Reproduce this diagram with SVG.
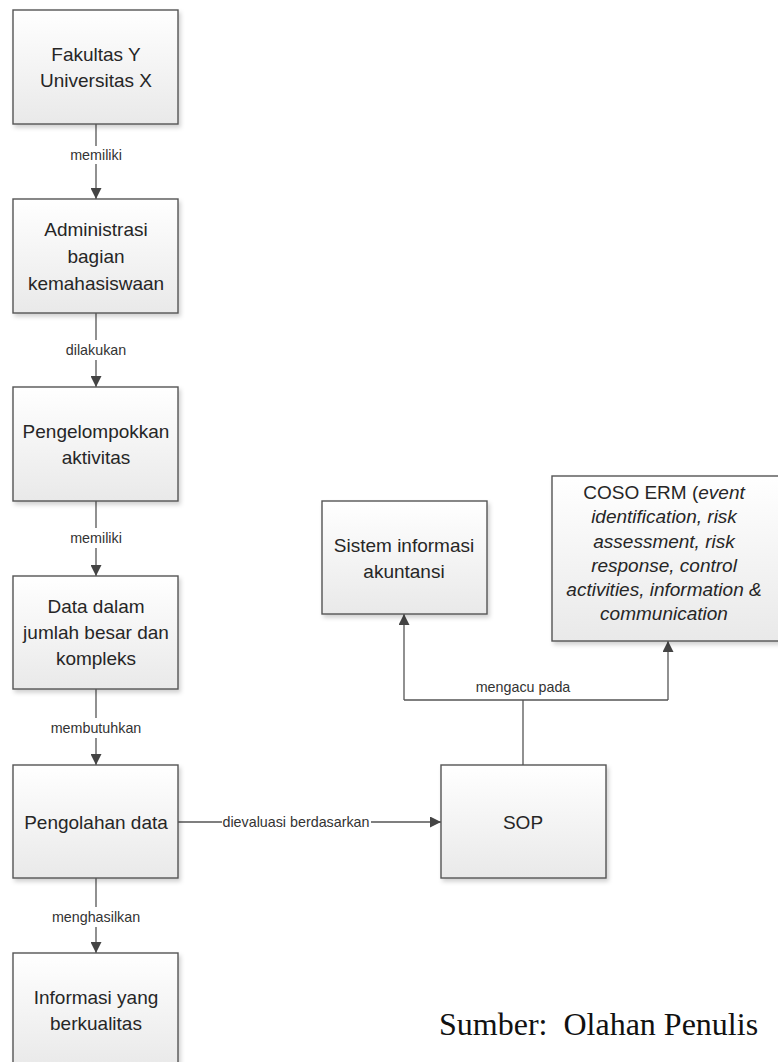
<svg xmlns="http://www.w3.org/2000/svg" width="778" height="1062" viewBox="0 0 778 1062">
<style>
.box{fill:url(#g);stroke:#555;stroke-width:1.4;filter:url(#sh)}
.nt{font-family:"Liberation Sans",Arial,sans-serif;font-size:19px;fill:#262626;text-anchor:middle;dominant-baseline:central}
.it{font-style:italic}
.lb{font-family:"Liberation Sans",Arial,sans-serif;font-size:14.3px;fill:#333;text-anchor:middle;dominant-baseline:central}
.cn{stroke:#555;stroke-width:1.3;fill:none}
.ar{marker-end:url(#ah)}
</style>
<defs>
<linearGradient id="g" x1="0" y1="0" x2="0" y2="1">
<stop offset="0" stop-color="#ffffff"/>
<stop offset="1" stop-color="#e9e9e9"/>
</linearGradient>
<filter id="sh" x="-10%" y="-10%" width="125%" height="125%">
<feDropShadow dx="2" dy="3" stdDeviation="2" flood-color="#000" flood-opacity="0.18"/>
</filter>
<marker id="ah" markerUnits="userSpaceOnUse" markerWidth="12" markerHeight="11" refX="11" refY="5.5" orient="auto">
<path d="M0,0 L11,5.5 L0,11 z" fill="#444"/>
</marker>
</defs>
<rect width="778" height="1062" fill="#fff"/>

<g id="connectors">
<line class="cn" x1="96" y1="124" x2="96" y2="146"/>
<line class="cn ar" x1="96" y1="164" x2="96" y2="199"/>
<text class="lb" x="96" y="155">memiliki</text>

<line class="cn" x1="96" y1="313" x2="96" y2="340"/>
<line class="cn ar" x1="96" y1="360" x2="96" y2="387"/>
<text class="lb" x="96" y="350">dilakukan</text>

<line class="cn" x1="96" y1="501" x2="96" y2="528"/>
<line class="cn ar" x1="96" y1="548" x2="96" y2="576"/>
<text class="lb" x="96" y="538">memiliki</text>

<line class="cn" x1="96" y1="689" x2="96" y2="718"/>
<line class="cn ar" x1="96" y1="738" x2="96" y2="765"/>
<text class="lb" x="96" y="728">membutuhkan</text>

<line class="cn" x1="96" y1="878" x2="96" y2="907"/>
<line class="cn ar" x1="96" y1="927" x2="96" y2="953"/>
<text class="lb" x="96" y="917">menghasilkan</text>

<line class="cn" x1="178" y1="822" x2="222" y2="822"/>
<line class="cn ar" x1="371" y1="822" x2="441" y2="822"/>
<text class="lb" x="296" y="822">dievaluasi berdasarkan</text>

<line class="cn" x1="523" y1="765" x2="523" y2="700"/>
<line class="cn" x1="404" y1="700" x2="668" y2="700"/>
<line class="cn ar" x1="404" y1="700" x2="404" y2="614"/>
<line class="cn ar" x1="668" y1="700" x2="668" y2="641"/>
<text class="lb" x="523" y="687">mengacu pada</text>
</g>

<g id="n1">
<rect class="box" x="13" y="10" width="165" height="114"/>
<text class="nt" x="96" y="54">Fakultas Y</text>
<text class="nt" x="96" y="80">Universitas X</text>
</g>
<g id="n2">
<rect class="box" x="13" y="199" width="165" height="114"/>
<text class="nt" x="96" y="229">Administrasi</text>
<text class="nt" x="96" y="256">bagian</text>
<text class="nt" x="96" y="283">kemahasiswaan</text>
</g>
<g id="n3">
<rect class="box" x="13" y="387" width="165" height="114"/>
<text class="nt" x="96" y="431">Pengelompokkan</text>
<text class="nt" x="96" y="457">aktivitas</text>
</g>
<g id="n4">
<rect class="box" x="13" y="576" width="165" height="113"/>
<text class="nt" x="96" y="606">Data dalam</text>
<text class="nt" x="96" y="632">jumlah besar dan</text>
<text class="nt" x="96" y="658">kompleks</text>
</g>
<g id="n5">
<rect class="box" x="13" y="765" width="165" height="113"/>
<text class="nt" x="96" y="822">Pengolahan data</text>
</g>
<g id="n6">
<rect class="box" x="13" y="953" width="165" height="114"/>
<text class="nt" x="96" y="997">Informasi yang</text>
<text class="nt" x="96" y="1023">berkualitas</text>
</g>
<g id="n7">
<rect class="box" x="322" y="501" width="165" height="113"/>
<text class="nt" x="404" y="545">Sistem informasi</text>
<text class="nt" x="404" y="571">akuntansi</text>
</g>
<g id="n8">
<rect class="box" x="552" y="476" width="230" height="165"/>
<text class="nt" x="664" y="492">COSO ERM (<tspan class="it">event</tspan></text>
<text class="nt it" x="664" y="516">identification, risk</text>
<text class="nt it" x="664" y="541">assessment, risk</text>
<text class="nt it" x="664" y="565">response, control</text>
<text class="nt it" x="664" y="589">activities, information &amp;</text>
<text class="nt it" x="664" y="613">communication</text>
</g>
<g id="n9">
<rect class="box" x="441" y="765" width="165" height="113"/>
<text class="nt" x="523" y="822">SOP</text>
</g>
<g id="source">
<text x="439" y="1035" font-family="'Liberation Serif','Times New Roman',serif" font-size="32" fill="#111">Sumber:&#160; Olahan Penulis</text>
</g>
</svg>
